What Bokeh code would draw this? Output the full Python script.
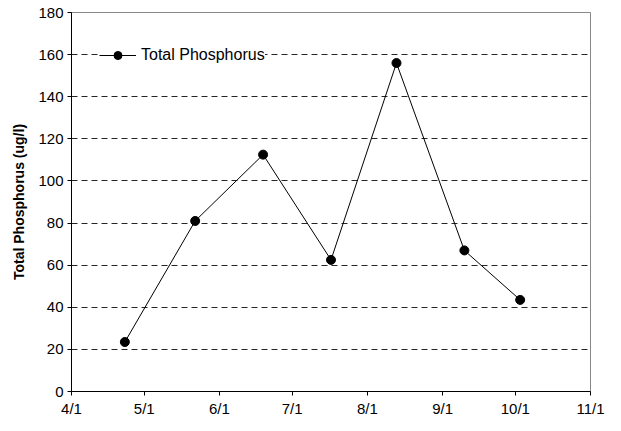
from datetime import datetime
from bokeh.plotting import figure
from bokeh.models import Range1d, FixedTicker, Legend, LegendItem
from bokeh.embed import file_html
from bokeh.resources import INLINE

# data
dates = ["2005-04-23", "2005-05-22", "2005-06-19", "2005-07-17", "2005-08-13", "2005-09-10", "2005-10-03"]
phosphorus = [23.5, 81, 112.5, 62.5, 156, 67, 43.5]
month_ticks = ["2005-04-01", "2005-05-01", "2005-06-01", "2005-07-01", "2005-08-01", "2005-09-01", "2005-10-01", "2005-11-01"]
month_labels = ["4/1", "5/1", "6/1", "7/1", "8/1", "9/1", "10/1", "11/1"]
y_ticks = [0, 20, 40, 60, 80, 100, 120, 140, 160, 180]
grid_ticks = [20, 40, 60, 80, 100, 120, 140, 160]

def ms(s):
    return (datetime.strptime(s, "%Y-%m-%d") - datetime(1970, 1, 1)).total_seconds() * 1000.0

xs = [datetime.strptime(d, "%Y-%m-%d") for d in dates]
tick_ms = [ms(t) for t in month_ticks]

FONT = "Liberation Sans"

p = figure(width=621, height=431, x_axis_type="datetime", output_backend="svg",
           toolbar_location=None,
           x_range=Range1d(tick_ms[0], tick_ms[-1]), y_range=Range1d(0, 180),
           min_border_left=71, min_border_right=31, min_border_top=12, min_border_bottom=40)
p.background_fill_color = "white"
p.border_fill_color = "white"
p.outline_line_color = "#888888"
p.outline_line_width = 1

# axes
p.xaxis.ticker = FixedTicker(ticks=tick_ms)
p.xaxis.major_label_overrides = {t: l for t, l in zip(tick_ms, month_labels)}
p.xaxis.minor_tick_line_color = None
p.yaxis.ticker = FixedTicker(ticks=y_ticks)
p.yaxis.minor_tick_line_color = None
for ax in (p.xaxis[0], p.yaxis[0]):
    ax.axis_line_color = "black"
    ax.major_tick_line_color = "black"
    ax.major_tick_out = 4
    ax.major_tick_in = 0
    ax.major_label_text_font = FONT
    ax.major_label_text_font_size = "15px"
    ax.major_label_text_color = "black"
p.xaxis.major_label_standoff = 4
p.yaxis.major_label_standoff = 4
p.yaxis.axis_label = "Total Phosphorus (ug/l)"
p.yaxis.axis_label_text_font = FONT
p.yaxis.axis_label_text_font_size = "14px"
p.yaxis.axis_label_text_font_style = "bold"
p.yaxis.axis_label_text_color = "black"
p.yaxis.axis_label_standoff = 8

# grid
p.xgrid.grid_line_color = None
p.ygrid.ticker = FixedTicker(ticks=grid_ticks)
p.ygrid.grid_line_color = "black"
p.ygrid.grid_line_alpha = 0.85
p.ygrid.grid_line_dash = "6 4"
p.ygrid.grid_line_width = 1

r_line = p.line(xs, phosphorus, line_color="black", line_width=1)
r_pts = p.scatter(xs, phosphorus, size=9, fill_color="black", line_color="black")

legend = Legend(items=[LegendItem(label="Total Phosphorus", renderers=[r_line, r_pts])],
                location=(28, 326), border_line_color=None, background_fill_color="white",
                background_fill_alpha=1.0, padding=4, margin=0, glyph_width=37, glyph_height=20,
                label_standoff=5, label_text_font=FONT, label_text_font_size="16px",
                label_text_color="black")
p.add_layout(legend)

open("out.html", "w").write(file_html(p, INLINE))
